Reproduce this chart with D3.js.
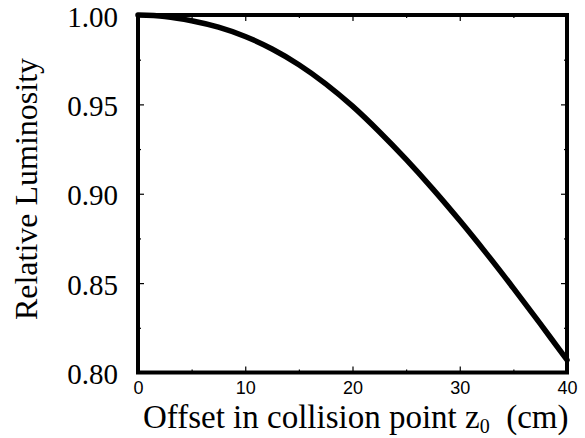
<!DOCTYPE html>
<html lang="en">
<head>
	<meta charset="UTF-8">
	<title>relative luminosity</title>
	<style>
		body { margin: 0; background: #fff; }
		.tick line { stroke: #000; stroke-width: 1.2px; }
		.title { font-family: "Liberation Serif", "Times New Roman", serif; fill: #000; }
	</style>
</head>
<body>
	<svg id="container" width="585" height="438"></svg>
<script src="https://cdn.jsdelivr.net/npm/d3@7"></script>
<script>
	// values
	let offsets    = [0, 2.5, 5, 7.5, 10, 12.5, 15, 17.5, 20, 22.5, 25, 27.5, 30, 32.5, 35, 37.5, 40];
	let luminosity = [1.000, 0.9992, 0.9968, 0.9932, 0.988, 0.981, 0.9722, 0.9615, 0.949, 0.9347, 0.9192, 0.9026, 0.885, 0.8665, 0.8472, 0.8273, 0.807];
	let xMajor = [0, 10, 20, 30, 40];
	let xMinor = [5, 15, 25, 35];
	let yMajor = [0.80, 0.85, 0.90, 0.95, 1.00];
	let yMinor = [0.825, 0.875, 0.925, 0.975];

	let svg = d3.select("#container")
	let pLeft = 138, pRight = 567, pTop = 15, pBottom = 372.5
	let xscale = d3.scaleLinear().domain([0, 40]).range([pLeft, pRight])
	let yscale = d3.scaleLinear().domain([0.80, 1.00]).range([pBottom, pTop])

	// minor ticks on all sides
	function minorAxes() {
		svg.append("g").attr("transform", "translate(0," + pBottom + ")")
			.call(d3.axisBottom(xscale).tickValues(xMinor).tickSize(-3).tickFormat(""))
		svg.append("g").attr("transform", "translate(0," + pTop + ")")
			.call(d3.axisTop(xscale).tickValues(xMinor).tickSize(-3).tickFormat(""))
		svg.append("g").attr("transform", "translate(" + pLeft + ",0)")
			.call(d3.axisLeft(yscale).tickValues(yMinor).tickSize(-3).tickFormat(""))
		svg.append("g").attr("transform", "translate(" + pRight + ",0)")
			.call(d3.axisRight(yscale).tickValues(yMinor).tickSize(-3).tickFormat(""))
	}
	minorAxes()

	let xax = svg.append("g").attr("transform", "translate(0," + pBottom + ")")
		.call(d3.axisBottom(xscale).tickValues(xMajor).tickSize(-6).tickPadding(9).tickFormat(d3.format("d")))
	xax.selectAll("text")
		.style("font-family", "'Liberation Sans', Arial, sans-serif")
		.style("font-size", "18px")
		.attr("fill", "#000")
	svg.append("g").attr("transform", "translate(0," + pTop + ")")
		.call(d3.axisTop(xscale).tickValues(xMajor).tickSize(-6).tickFormat(""))
	let yax = svg.append("g").attr("transform", "translate(" + pLeft + ",0)")
		.call(d3.axisLeft(yscale).tickValues(yMajor).tickSize(-6).tickPadding(20).tickFormat(d3.format(".2f")))
	yax.selectAll("text")
		.attr("dy", "0.38em")
		.style("font-family", "'Liberation Serif', 'Times New Roman', serif")
		.style("font-size", "29px")
		.attr("fill", "#000")
	svg.append("g").attr("transform", "translate(" + pRight + ",0)")
		.call(d3.axisRight(yscale).tickValues(yMajor).tickSize(-6).tickFormat(""))

	svg.selectAll(".domain").remove()

	// frame
	svg.append("rect")
		.attr("x", pLeft).attr("y", pTop)
		.attr("width", pRight - pLeft).attr("height", pBottom - pTop)
		.attr("fill", "none").attr("stroke", "#000").attr("stroke-width", 4)

	let data = offsets.map((x, i) => ({x: x, y: luminosity[i]}))
	let valueline = d3.line()
		.x(d => xscale(d.x))
		.y(d => yscale(d.y))
		.curve(d3.curveCatmullRom)
	svg.append("path")
		.datum(data)
		.attr("d", valueline)
		.attr("fill", "none")
		.attr("stroke", "#000")
		.attr("stroke-width", 5.5)
		.attr("stroke-linecap", "round")

	// axis titles
	let xt = svg.append("text").attr("class", "title")
		.style("font-size", "33px")
		.attr("x", 143).attr("y", 428)
	xt.append("tspan").text("Offset in collision point z")
	xt.append("tspan").attr("dy", 5).style("font-size", "20px").text("0")
	xt.append("tspan").attr("dy", -5).text("\u00a0\u00a0(cm)")

	svg.append("text").attr("class", "title")
		.style("font-size", "32px")
		.attr("transform", "translate(37,189) rotate(-90)")
		.attr("text-anchor", "middle")
		.text("Relative Luminosity")
</script>
</body>
</html>
